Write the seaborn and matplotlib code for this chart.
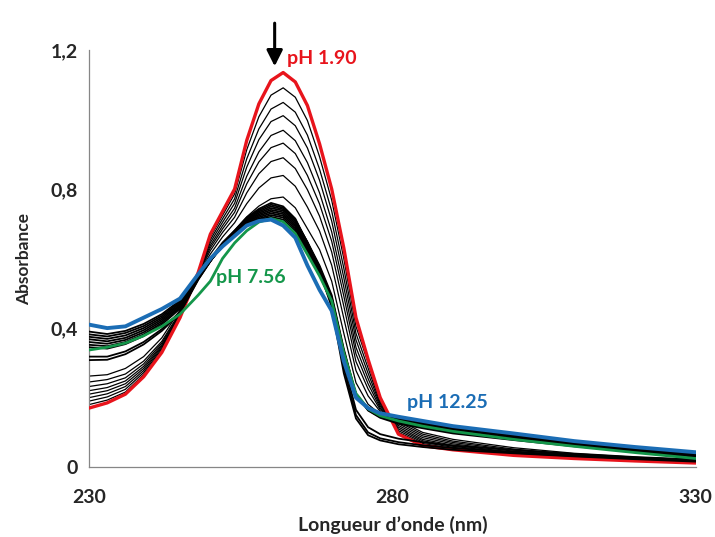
import numpy as np
import pandas as pd
import matplotlib
matplotlib.use("Agg")
import matplotlib.pyplot as plt
import seaborn as sns

# wavelength grid (nm) shared by every spectrum
wavelength = [230, 233, 236, 239, 242, 245, 248, 250, 252, 254, 256, 258, 260, 262, 264,
              266, 268, 270, 272, 274, 276, 278, 281, 285, 290, 300, 310, 320, 330]

# pH 1.90 (red)
abs_ph190 = [0.170, 0.185, 0.210, 0.260, 0.330, 0.430, 0.560, 0.670, 0.735, 0.800, 0.940, 1.045, 1.112, 1.135, 1.108,
             1.040, 0.930, 0.800, 0.630, 0.430, 0.310, 0.200, 0.095, 0.062, 0.050, 0.034, 0.025, 0.018, 0.012]

# pH 7.56 (green)
abs_ph756 = [0.337, 0.345, 0.357, 0.378, 0.405, 0.440, 0.495, 0.535, 0.600, 0.645, 0.680, 0.705, 0.715, 0.706, 0.672,
             0.612, 0.550, 0.478, 0.328, 0.212, 0.168, 0.148, 0.133, 0.118, 0.103, 0.080, 0.060, 0.042, 0.025]

# pH 12.25 (blue)
abs_ph1225 = [0.410, 0.400, 0.405, 0.430, 0.455, 0.485, 0.555, 0.600, 0.635, 0.665, 0.695, 0.708, 0.712, 0.695, 0.660,
              0.580, 0.510, 0.450, 0.305, 0.200, 0.170, 0.155, 0.145, 0.133, 0.118, 0.097, 0.075, 0.058, 0.043]

# intermediate acidic spectra (thin black, high peak)
acid_spectra = [
    [0.180, 0.193, 0.216, 0.266, 0.335, 0.432, 0.560, 0.662, 0.724, 0.786, 0.913, 1.008, 1.070, 1.091, 1.064,
     0.997, 0.893, 0.768, 0.600, 0.405, 0.300, 0.190, 0.100, 0.068, 0.054, 0.037, 0.027, 0.019, 0.013],
    [0.190, 0.202, 0.224, 0.272, 0.340, 0.434, 0.560, 0.654, 0.714, 0.772, 0.887, 0.973, 1.030, 1.049, 1.021,
     0.955, 0.857, 0.737, 0.572, 0.385, 0.285, 0.185, 0.105, 0.072, 0.057, 0.039, 0.028, 0.020, 0.014],
    [0.200, 0.211, 0.232, 0.278, 0.344, 0.436, 0.560, 0.646, 0.704, 0.759, 0.863, 0.942, 0.994, 1.011, 0.982,
     0.918, 0.825, 0.708, 0.545, 0.366, 0.270, 0.180, 0.110, 0.076, 0.060, 0.041, 0.030, 0.021, 0.015],
    [0.210, 0.220, 0.240, 0.284, 0.348, 0.438, 0.560, 0.638, 0.694, 0.745, 0.837, 0.907, 0.954, 0.969, 0.939,
     0.876, 0.789, 0.677, 0.518, 0.345, 0.255, 0.175, 0.115, 0.080, 0.063, 0.043, 0.031, 0.022, 0.016],
    [0.220, 0.229, 0.248, 0.290, 0.352, 0.440, 0.558, 0.631, 0.685, 0.733, 0.815, 0.878, 0.919, 0.932, 0.902,
     0.839, 0.757, 0.650, 0.492, 0.326, 0.240, 0.170, 0.120, 0.085, 0.067, 0.046, 0.033, 0.024, 0.017],
    [0.232, 0.240, 0.257, 0.297, 0.357, 0.443, 0.557, 0.623, 0.675, 0.719, 0.789, 0.844, 0.879, 0.890, 0.859,
     0.798, 0.722, 0.619, 0.463, 0.304, 0.225, 0.165, 0.125, 0.090, 0.071, 0.049, 0.035, 0.026, 0.019],
    [0.245, 0.252, 0.268, 0.305, 0.362, 0.446, 0.556, 0.613, 0.662, 0.703, 0.758, 0.803, 0.832, 0.839, 0.808,
     0.748, 0.679, 0.581, 0.428, 0.278, 0.205, 0.160, 0.130, 0.095, 0.075, 0.052, 0.037, 0.028, 0.021],
    [0.262, 0.266, 0.284, 0.318, 0.372, 0.452, 0.555, 0.601, 0.647, 0.682, 0.720, 0.751, 0.772, 0.777, 0.746,
     0.686, 0.626, 0.535, 0.385, 0.243, 0.181, 0.152, 0.135, 0.100, 0.080, 0.056, 0.040, 0.030, 0.023],
]

# near-neutral / basic spectra (black bundle)
base_spectra = [
    [0.390, 0.383, 0.392, 0.412, 0.440, 0.480, 0.550, 0.595, 0.635, 0.665, 0.695, 0.712, 0.720, 0.712, 0.680,
     0.620, 0.555, 0.470, 0.320, 0.210, 0.168, 0.152, 0.140, 0.128, 0.114, 0.093, 0.072, 0.055, 0.040],
    [0.382, 0.376, 0.386, 0.406, 0.435, 0.476, 0.548, 0.594, 0.635, 0.666, 0.697, 0.715, 0.725, 0.718, 0.686,
     0.626, 0.560, 0.475, 0.322, 0.210, 0.167, 0.150, 0.137, 0.125, 0.111, 0.090, 0.070, 0.053, 0.038],
    [0.375, 0.369, 0.379, 0.400, 0.430, 0.472, 0.547, 0.593, 0.636, 0.668, 0.700, 0.719, 0.730, 0.723, 0.692,
     0.632, 0.565, 0.480, 0.325, 0.210, 0.166, 0.148, 0.134, 0.122, 0.108, 0.087, 0.068, 0.051, 0.036],
    [0.368, 0.362, 0.372, 0.394, 0.425, 0.468, 0.546, 0.593, 0.637, 0.670, 0.703, 0.723, 0.735, 0.728, 0.697,
     0.637, 0.570, 0.485, 0.330, 0.210, 0.165, 0.146, 0.131, 0.118, 0.104, 0.084, 0.065, 0.049, 0.034],
    [0.360, 0.355, 0.366, 0.388, 0.420, 0.464, 0.545, 0.593, 0.638, 0.672, 0.706, 0.727, 0.740, 0.733, 0.702,
     0.642, 0.575, 0.490, 0.335, 0.210, 0.164, 0.144, 0.128, 0.115, 0.100, 0.081, 0.062, 0.047, 0.032],
    [0.352, 0.348, 0.360, 0.382, 0.415, 0.460, 0.544, 0.593, 0.639, 0.674, 0.709, 0.731, 0.745, 0.738, 0.707,
     0.647, 0.580, 0.495, 0.340, 0.210, 0.163, 0.142, 0.125, 0.112, 0.097, 0.078, 0.060, 0.045, 0.030],
    [0.345, 0.341, 0.354, 0.377, 0.410, 0.456, 0.543, 0.593, 0.640, 0.676, 0.712, 0.735, 0.750, 0.742, 0.710,
     0.648, 0.575, 0.480, 0.300, 0.165, 0.115, 0.095, 0.082, 0.072, 0.062, 0.050, 0.038, 0.028, 0.020],
    [0.318, 0.318, 0.333, 0.360, 0.397, 0.447, 0.540, 0.592, 0.641, 0.678, 0.715, 0.739, 0.755, 0.746, 0.712,
     0.645, 0.570, 0.470, 0.285, 0.150, 0.100, 0.083, 0.072, 0.063, 0.055, 0.044, 0.034, 0.025, 0.018],
    [0.308, 0.309, 0.325, 0.353, 0.392, 0.443, 0.539, 0.592, 0.642, 0.680, 0.718, 0.743, 0.760, 0.750, 0.715,
     0.645, 0.565, 0.460, 0.270, 0.140, 0.092, 0.077, 0.066, 0.058, 0.050, 0.040, 0.031, 0.023, 0.016],
]

x_ticks = [230, 280, 330]
y_ticks = [0, 0.4, 0.8, 1.2]
y_tick_labels = ["0", "0,4", "0,8", "1,2"]

RED = "#E8141C"
GREEN = "#14964A"
BLUE = "#1B6DB5"

sns.set_theme(style="white")
plt.rcParams['font.family'] = ['Lato', 'DejaVu Sans']

fig = plt.figure(figsize=(7.15, 5.37), dpi=100)
ax = fig.add_axes([0.1245, 0.130, 0.8485, 0.777])

def draw(values, color, lw, z):
    sns.lineplot(x=wavelength, y=values, color=color, linewidth=lw, ax=ax,
                 estimator=None, sort=False, zorder=z)

# Draw order: thin acidic lines, red envelope, black bundle, green and blue on top
for spec in acid_spectra:
    draw(spec, "black", 0.9, 2)
draw(abs_ph190, RED, 2.4, 3)
for spec in base_spectra:
    draw(spec, "black", 1.3, 4)
draw(abs_ph756, GREEN, 2.0, 5)
draw(abs_ph1225, BLUE, 2.8, 6)

ax.set_xlim(230, 330)
ax.set_ylim(0, 1.2)
ax.set_xticks(x_ticks)
ax.set_xticklabels([str(t) for t in x_ticks])
ax.set_yticks(y_ticks)
ax.set_yticklabels(y_tick_labels)
ax.tick_params(axis="both", direction="out", length=5, width=0.8, color="#868686",
               labelsize=14, pad=3)
ax.tick_params(axis="x", pad=11)
for lab in ax.get_xticklabels() + ax.get_yticklabels():
    lab.set_fontweight("bold")

for side in ["top", "right"]:
    ax.spines[side].set_visible(False)
for side in ["left", "bottom"]:
    ax.spines[side].set_color("#868686")
    ax.spines[side].set_linewidth(0.9)

ax.set_xlabel("Longueur d\u2019onde (nm)", fontsize=14, fontweight="bold", labelpad=7)
ax.set_ylabel("Absorbance", fontsize=12.5, fontweight="bold", labelpad=13)

# annotations
ax.text(262.6, 1.175, "pH 1.90", color=RED, fontsize=14, fontweight="bold", va="center", ha="left")
ax.text(250.9, 0.545, "pH 7.56", color=GREEN, fontsize=14, fontweight="bold", va="center", ha="left")
ax.text(282.4, 0.187, "pH 12.25", color=BLUE, fontsize=14, fontweight="bold", va="center", ha="left")
ax.annotate("", xy=(260.6, 1.145), xytext=(260.6, 1.285), annotation_clip=False,
            arrowprops=dict(arrowstyle="-|>,head_width=0.4,head_length=0.8", color="black", lw=2.2))

fig.savefig("out.png", dpi=100)
